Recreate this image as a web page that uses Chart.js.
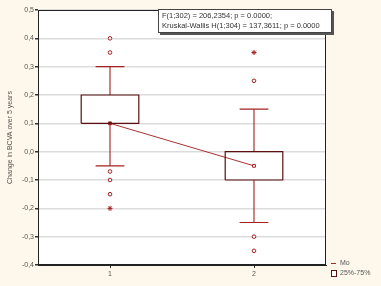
<!DOCTYPE html>
<html>
<head>
<meta charset="utf-8">
<script src="https://cdn.jsdelivr.net/npm/chart.js@4.4.1/dist/chart.umd.min.js"></script>
<style>
  body { margin: 0; background: #fdf8eb; }
  #wrap { position: relative; width: 381px; height: 286px; }
  #stats {
    position: absolute; left: 158px; top: 9px; width: 166px; height: 20px;
    background: #fff; border: 1px solid #444; box-shadow: 2px 2px 0 #555;
    font: 7.5px "Liberation Sans", Arial, sans-serif; color: #333;
    padding: 1px 3px; line-height: 10px; white-space: nowrap;
  }
  .leg { position: absolute; font: 7px "Liberation Sans", Arial, sans-serif; color: #555; white-space: nowrap; }
  .dash { display: inline-block; width: 5px; height: 1px; background: #a52a2a; vertical-align: middle; margin-right: 4px; }
  .sq { display: inline-block; width: 4px; height: 5px; border: 1px solid #5a1010; background: #fff; vertical-align: middle; margin-right: 3px; }
</style>
</head>
<body>
<div id="wrap">
  <canvas id="chart" width="381" height="286"></canvas>
  <div id="stats">F(1;302) = 206,2354; p = 0.0000;<br>Kruskal-Wallis H(1;304) = 137,3611; p = 0.0000</div>
  <div class="leg" style="left:331px; top:259px;"><span class="dash"></span>Mo</div>
  <div class="leg" style="left:331px; top:269px;"><span class="sq"></span>25%-75%</div>
</div>
<script>
// グループ（x 位置）
const categories = [1, 2];
const tickLabels = ["1", "2"];

// 箱ひげの値
const medians = [0.1, -0.05];
const q1 = [0.1, -0.1];
const q3 = [0.2, 0.0];
const whiskerLow = [-0.05, -0.25];
const whiskerHigh = [0.3, 0.15];

// 外れ値・極値
const outliers = [[0.4, 0.35, -0.07, -0.1, -0.15], [0.25, -0.3, -0.35]];
const extremes = [[-0.2], [0.35]];

const boxHalf = 0.2;
const capHalf = 0.1;

// 箱の枠（null で区切る）
const boxPts = [];
categories.forEach((c, i) => {
  boxPts.push({ x: c - boxHalf, y: q1[i] }, { x: c + boxHalf, y: q1[i] },
    { x: c + boxHalf, y: q3[i] }, { x: c - boxHalf, y: q3[i] },
    { x: c - boxHalf, y: q1[i] }, { x: c, y: null });
});

// ひげ
const whiskerPts = [];
categories.forEach((c, i) => {
  whiskerPts.push({ x: c, y: q3[i] }, { x: c, y: whiskerHigh[i] }, { x: c, y: null });
  whiskerPts.push({ x: c - capHalf, y: whiskerHigh[i] }, { x: c + capHalf, y: whiskerHigh[i] }, { x: c, y: null });
  whiskerPts.push({ x: c, y: q1[i] }, { x: c, y: whiskerLow[i] }, { x: c, y: null });
  whiskerPts.push({ x: c - capHalf, y: whiskerLow[i] }, { x: c + capHalf, y: whiskerLow[i] }, { x: c, y: null });
});

const outPts = [];
categories.forEach((c, i) => outliers[i].forEach((v) => outPts.push({ x: c, y: v })));
const extPts = [];
categories.forEach((c, i) => extremes[i].forEach((v) => extPts.push({ x: c, y: v })));

const medPts = categories.map((c, i) => ({ x: c, y: medians[i] }));

const red = "#a52020";
const dark = "#5a1010";

// プロット領域の背景と枠
const frame = {
  id: "frame",
  beforeDraw(chart) {
    const { ctx, chartArea: a } = chart;
    ctx.save();
    ctx.fillStyle = "#fff";
    ctx.fillRect(a.left, a.top, a.right - a.left, a.bottom - a.top);
    ctx.restore();
  },
  afterDraw(chart) {
    const { ctx, chartArea: a } = chart;
    ctx.save();
    ctx.strokeStyle = "#222";
    ctx.lineWidth = 1;
    ctx.strokeRect(a.left + 0.5, a.top + 0.5, a.right - a.left - 1, a.bottom - a.top - 1);
    ctx.restore();
  },
};

Chart.defaults.font.family = '"Liberation Sans", Arial, sans-serif';
Chart.defaults.font.size = 7;
Chart.defaults.color = "#555";

new Chart(document.getElementById("chart"), {
  type: "scatter",
  data: {
    datasets: [
      { data: boxPts, showLine: true, spanGaps: false, borderColor: dark, borderWidth: 1.2, pointRadius: 0 },
      { data: whiskerPts, showLine: true, spanGaps: false, borderColor: red, borderWidth: 1.1, pointRadius: 0 },
      {
        data: medPts, showLine: true, borderColor: "#a83232", borderWidth: 1, pointStyle: "rect",
        pointRadius: 2, pointBorderColor: red, pointBackgroundColor: [dark, "#fff"], pointBorderWidth: 1,
      },
      { data: outPts, pointStyle: "circle", pointRadius: 1.8, borderColor: red, backgroundColor: "#fff", borderWidth: 1 },
      { data: extPts, pointStyle: "star", pointRadius: 2.5, borderColor: red, backgroundColor: red, borderWidth: 1 },
    ],
  },
  options: {
    responsive: false,
    animation: false,
    layout: { padding: { top: 10, right: 55, left: 0, bottom: 0 } },
    plugins: { legend: { display: false }, tooltip: { enabled: false } },
    scales: {
      x: {
        type: "linear",
        min: 0.5,
        max: 2.5,
        afterBuildTicks(scale) {
          scale.ticks = categories.map((c) => ({ value: c }));
        },
        afterFit(scale) { scale.height = 21; },
        ticks: {
          padding: 2,
          callback: (v) => tickLabels[categories.indexOf(v)] ?? "",
        },
        grid: { drawOnChartArea: false, tickLength: 3, tickColor: "#333" },
        border: { color: "#222", width: 1 },
      },
      y: {
        min: -0.4,
        max: 0.5,
        afterFit(scale) { scale.width = 38; },
        ticks: {
          stepSize: 0.1,
          padding: 1,
          callback: (v) => v.toFixed(1).replace(".", ",").replace("-0,0", "0,0"),
        },
        grid: { color: "#dcdcdc", lineWidth: 1.5, tickLength: 3, tickColor: "#333" },
        border: { color: "#222", width: 1 },
        title: {
          display: true, text: "Change in BCVA over 5 years", font: { size: 7 }, color: "#555",
          padding: { top: 6, bottom: 0 },
        },
      },
    },
  },
  plugins: [frame],
});
</script>
</body>
</html>
